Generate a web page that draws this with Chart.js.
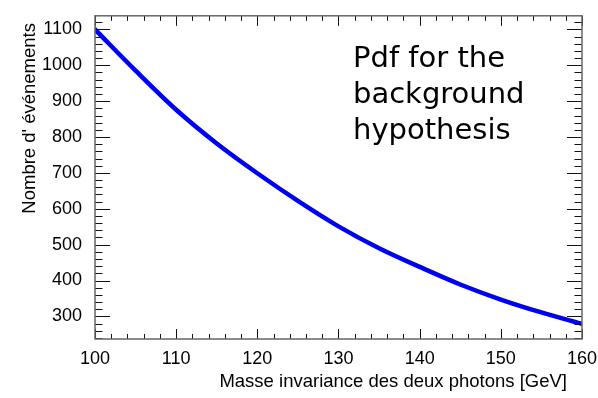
<!DOCTYPE html>
<html>
<head>
<meta charset="utf-8">
<title>Pdf background</title>
<script src="https://cdn.jsdelivr.net/npm/chart.js@4.4.1/dist/chart.umd.min.js"></script>
<style>
    html, body { margin: 0; padding: 0; background: #fff; }
    #chart { display: block; }
</style>
</head>
<body>
<canvas id="chart" width="598" height="398"></canvas>
<script>
// Values
const masses = [100, 105, 110, 115, 120, 125, 130, 135, 140, 145, 150, 155, 160];
const events = [1100, 985, 876, 782, 699, 622, 551, 490, 438, 389, 347, 311, 279];

const xTickLabels = [100, 110, 120, 130, 140, 150, 160];
const yTickLabels = [300, 400, 500, 600, 700, 800, 900, 1000, 1100];

const xTitle = "Masse invariance des deux photons [GeV]";
const yTitle = "Nombre d' événements";
const noteLines = ["Pdf for the", "background", "hypothesis"];

const LABEL_FONT = "Liberation Sans, Arial, sans-serif";

// ROOT-style frame: inner ticks on all four sides, titles and the note
const rootFrame = {
    id: "rootFrame",
    afterDraw(chart) {
        const { ctx, chartArea: a, scales } = chart;
        const xs = scales.x, ys = scales.y;
        ctx.save();

        ctx.strokeStyle = "#111";
        ctx.lineWidth = 1;
        ctx.beginPath();
        for (let v = 100; v <= 160; v += 2) {
            const px = Math.round(xs.getPixelForValue(v)) + 0.5;
            const len = xTickLabels.includes(v) ? 10 : 5;
            ctx.moveTo(px, a.bottom); ctx.lineTo(px, a.bottom - len);
            ctx.moveTo(px, a.top); ctx.lineTo(px, a.top + len);
        }
        for (let v = 240; v <= 1120; v += 20) {
            const py = Math.round(ys.getPixelForValue(v)) + 0.5;
            const len = yTickLabels.includes(v) ? 15 : 7.5;
            ctx.moveTo(a.left, py); ctx.lineTo(a.left + len, py);
            ctx.moveTo(a.right, py); ctx.lineTo(a.right - len, py);
        }
        ctx.stroke();

        ctx.strokeStyle = "#666";
        ctx.lineWidth = 1.5;
        ctx.strokeRect(a.left, a.top, a.right - a.left, a.bottom - a.top);

        ctx.fillStyle = "#000";
        ctx.font = "18.5px " + LABEL_FONT;
        ctx.textAlign = "right";
        ctx.textBaseline = "alphabetic";
        ctx.fillText(xTitle, 567, 387);

        ctx.save();
        ctx.translate(35, 23);
        ctx.rotate(-Math.PI / 2);
        ctx.textAlign = "right";
        ctx.fillText(yTitle, 0, 0);
        ctx.restore();

        ctx.font = "29px DejaVu Sans, Verdana, sans-serif";
        ctx.textAlign = "left";
        const baselines = [67, 103, 139];
        noteLines.forEach((line, i) => ctx.fillText(line, 353, baselines[i]));

        ctx.restore();
    },
};

const ctx = document.getElementById("chart").getContext("2d");
new Chart(ctx, {
    type: "line",
    data: {
        datasets: [
            {
                data: masses.map((m, i) => ({ x: m, y: events[i] })),
                borderColor: "#0000f0",
                borderWidth: 4.5,
                pointRadius: 0,
                cubicInterpolationMode: "monotone",
                borderCapStyle: "round",
                fill: false,
            },
        ],
    },
    options: {
        responsive: false,
        animation: false,
        layout: { autoPadding: false, padding: { top: 8, right: 14, left: 0, bottom: 0 } },
        plugins: { legend: { display: false }, tooltip: { enabled: false } },
        scales: {
            x: {
                type: "linear",
                min: 100,
                max: 160,
                afterFit: (s) => { s.height = 59; },
                afterBuildTicks: (s) => { s.ticks = xTickLabels.map((v) => ({ value: v })); },
                grid: { display: false },
                border: { display: false },
                ticks: {
                    color: "#000",
                    padding: 1,
                    autoSkip: false,
                    maxRotation: 0,
                    callback: (v) => String(v),
                    font: { family: LABEL_FONT, size: 18 },
                },
            },
            y: {
                type: "linear",
                min: 237,
                max: 1138,
                afterFit: (s) => { s.width = 95; },
                afterBuildTicks: (s) => { s.ticks = yTickLabels.map((v) => ({ value: v })); },
                grid: { display: false },
                border: { display: false },
                ticks: {
                    color: "#000",
                    padding: 5,
                    autoSkip: false,
                    callback: (v) => String(v),
                    font: { family: LABEL_FONT, size: 18 },
                },
            },
        },
    },
    plugins: [rootFrame],
});
</script>
</body>
</html>
